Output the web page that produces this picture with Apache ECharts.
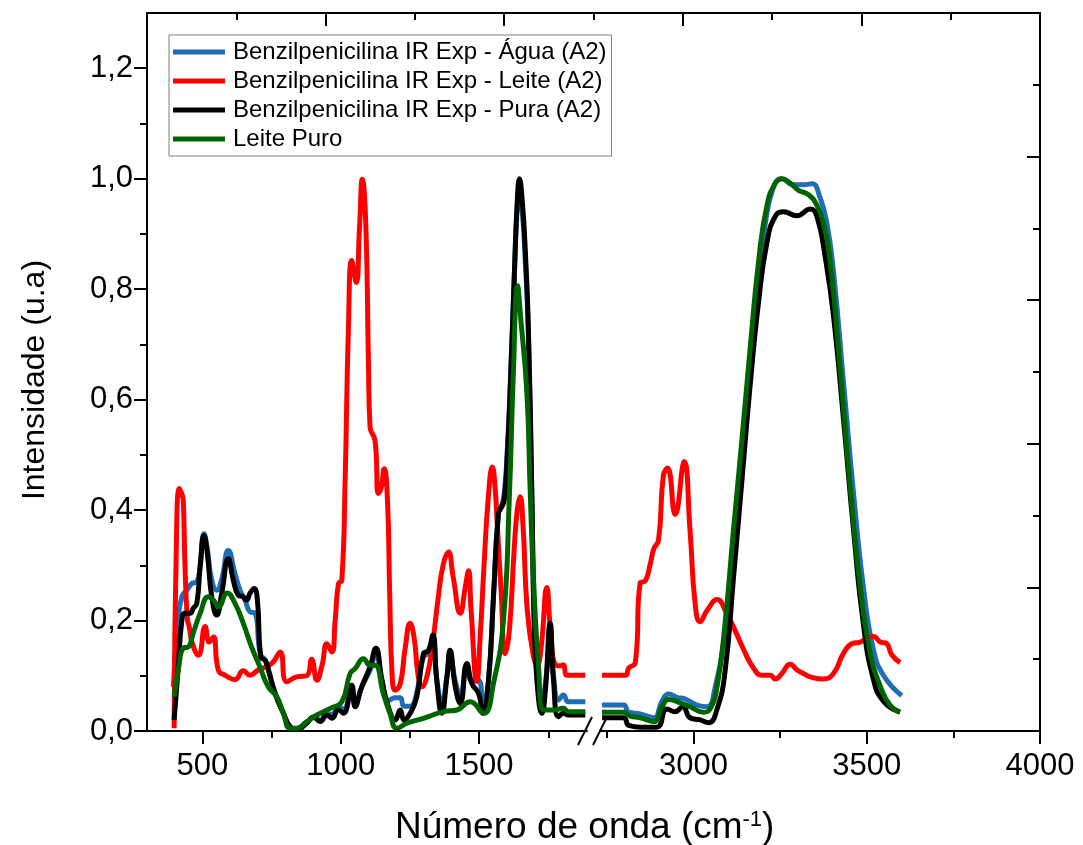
<!DOCTYPE html>
<html>
<head>
<meta charset="utf-8">
<title>Benzilpenicilina IR</title>
<script src="https://cdn.jsdelivr.net/npm/echarts@6/dist/echarts.min.js"></script>
<style>
html, body { margin: 0; padding: 0; background: #fff; }
#main { width: 1083px; height: 845px; }
</style>
</head>
<body>
<div id="main"></div>
<script>
var myChart = echarts.init(document.getElementById('main'));
var FONT = '"Liberation Sans", Arial, Helvetica, sans-serif';

var names = ['Benzilpenicilina IR Exp - Água (A2)', 'Benzilpenicilina IR Exp - Leite (A2)',
             'Benzilpenicilina IR Exp - Pura (A2)', 'Leite Puro'];
var colors = ['#1f6db4', '#ff0000', '#000000', '#006400'];

// ticks
var xTicksLeft = [500, 1000, 1500];
var xMinorLeft = [750, 1250, 1750];
var xTicksRight = [3000, 3500, 4000];
var xMinorRight = [2750, 3250, 3750];
var yTicks = [0, 0.2, 0.4, 0.6, 0.8, 1.0, 1.2];
var yMinor = [0.1, 0.3, 0.5, 0.7, 0.9, 1.1];
var frameTicks = [0, 2, 4, 6, 8, 10];
var frameMinor = [1, 3, 5, 7, 9];

// espectros [numero de onda, intensidade] - trecho 300-1890
var aguaL = [[395,0.08],[412,0.20],[426,0.243],[444,0.255],[462,0.267],[480,0.27],[492,0.30],[506,0.357],[518,0.33],[534,0.273],[552,0.255],[570,0.275],[594,0.327],[618,0.285],[636,0.255],[654,0.237],[672,0.216],[691,0.213],[709,0.14],[727,0.128],[739,0.11],[763,0.068],[793,0.032],[817,0.008],[841,0.003],[877,0.014],[901,0.025],[926,0.02],[950,0.032],[968,0.03],[992,0.042],[1010,0.04],[1040,0.075],[1052,0.05],[1076,0.08],[1106,0.11],[1127,0.14],[1149,0.092],[1172,0.055],[1197,0.06],[1215,0.06],[1229,0.045],[1251,0.045],[1275,0.07],[1299,0.135],[1317,0.14],[1333,0.16],[1347,0.095],[1365,0.05],[1384,0.10],[1395,0.14],[1414,0.09],[1432,0.065],[1456,0.12],[1474,0.09],[1498,0.092],[1514,0.05],[1534,0.092],[1552,0.243],[1570,0.394],[1582,0.41],[1591,0.43],[1601,0.5],[1612,0.62],[1627,0.82],[1638,0.95],[1645,0.98],[1656,0.94],[1666,0.86],[1678,0.72],[1691,0.418],[1699,0.2],[1709,0.11],[1727,0.056],[1743,0.10],[1757,0.17],[1769,0.10],[1787,0.056],[1805,0.065],[1823,0.053],[1884,0.053]];
var leiteL = [[398,0.005],[407,0.363],[417,0.439],[426,0.429],[431,0.418],[437,0.304],[446,0.202],[453,0.188],[463,0.16],[486,0.137],[510,0.189],[525,0.161],[540,0.17],[558,0.11],[582,0.101],[618,0.093],[648,0.109],[672,0.101],[701,0.11],[733,0.117],[756,0.125],[781,0.143],[805,0.089],[841,0.098],[877,0.10],[895,0.13],[914,0.092],[933,0.12],[950,0.158],[968,0.143],[980,0.20],[992,0.267],[1004,0.273],[1016,0.454],[1028,0.731],[1040,0.852],[1056,0.812],[1068,0.912],[1078,0.999],[1091,0.912],[1100,0.671],[1106,0.55],[1124,0.526],[1136,0.43],[1146,0.44],[1157,0.475],[1169,0.418],[1177,0.25],[1186,0.1],[1197,0.074],[1215,0.085],[1233,0.15],[1251,0.195],[1265,0.17],[1280,0.10],[1293,0.08],[1312,0.10],[1330,0.15],[1352,0.24],[1370,0.30],[1389,0.324],[1406,0.28],[1432,0.213],[1450,0.26],[1462,0.29],[1471,0.22],[1492,0.09],[1504,0.17],[1518,0.30],[1533,0.42],[1548,0.478],[1558,0.44],[1565,0.38],[1580,0.25],[1594,0.14],[1609,0.18],[1627,0.33],[1638,0.40],[1648,0.424],[1659,0.37],[1674,0.22],[1697,0.134],[1710,0.12],[1724,0.15],[1745,0.26],[1757,0.19],[1775,0.12],[1793,0.118],[1805,0.12],[1817,0.101],[1884,0.101]];
var puraL = [[398,0.02],[413,0.116],[426,0.2],[437,0.213],[456,0.213],[467,0.222],[480,0.231],[492,0.297],[506,0.354],[518,0.321],[534,0.243],[552,0.21],[570,0.249],[594,0.312],[612,0.273],[630,0.246],[648,0.243],[660,0.237],[672,0.249],[687,0.258],[699,0.237],[711,0.134],[727,0.128],[739,0.11],[763,0.068],[793,0.032],[817,0.008],[841,0.003],[877,0.014],[901,0.025],[926,0.017],[950,0.029],[968,0.023],[992,0.038],[1010,0.032],[1040,0.083],[1052,0.044],[1076,0.08],[1106,0.116],[1127,0.15],[1149,0.092],[1172,0.044],[1197,0.02],[1215,0.038],[1229,0.02],[1251,0.032],[1275,0.062],[1299,0.14],[1317,0.146],[1333,0.174],[1347,0.092],[1365,0.032],[1384,0.098],[1395,0.146],[1414,0.08],[1432,0.05],[1456,0.122],[1474,0.086],[1498,0.068],[1514,0.032],[1534,0.092],[1552,0.243],[1570,0.394],[1582,0.406],[1591,0.418],[1602,0.5],[1612,0.611],[1627,0.82],[1638,0.96],[1646,1.0],[1656,0.96],[1666,0.88],[1678,0.731],[1691,0.418],[1699,0.2],[1709,0.092],[1727,0.032],[1739,0.07],[1757,0.195],[1769,0.092],[1787,0.026],[1805,0.032],[1823,0.029],[1884,0.029]];
var puroL = [[398,0.062],[413,0.11],[431,0.15],[449,0.152],[467,0.177],[492,0.213],[522,0.243],[540,0.237],[558,0.225],[590,0.25],[618,0.231],[648,0.195],[678,0.152],[708,0.116],[738,0.08],[769,0.062],[793,0.032],[817,0.005],[841,0.005],[877,0.017],[914,0.029],[962,0.041],[1004,0.053],[1034,0.104],[1052,0.113],[1082,0.131],[1106,0.119],[1124,0.119],[1154,0.068],[1178,0.032],[1203,0.005],[1239,0.014],[1299,0.023],[1371,0.035],[1420,0.038],[1468,0.053],[1516,0.032],[1552,0.086],[1588,0.2],[1609,0.418],[1624,0.65],[1639,0.806],[1650,0.75],[1673,0.61],[1685,0.43],[1697,0.273],[1715,0.116],[1733,0.038],[1769,0.038],[1805,0.041],[1823,0.035],[1884,0.035]];

// trecho 2730-4000
var aguaR = [[2736,0.047],[2798,0.047],[2813,0.034],[2846,0.031],[2885,0.024],[2909,0.054],[2928,0.067],[2952,0.061],[2976,0.058],[3010,0.047],[3039,0.044],[3063,0.081],[3087,0.161],[3111,0.295],[3135,0.463],[3159,0.63],[3183,0.798],[3207,0.918],[3231,0.985],[3255,1.0],[3288,0.989],[3317,0.989],[3342,0.991],[3365,0.966],[3385,0.919],[3404,0.831],[3433,0.63],[3462,0.429],[3490,0.262],[3519,0.148],[3548,0.101],[3601,0.064]];
var leiteR = [[2736,0.101],[2803,0.101],[2813,0.114],[2832,0.124],[2846,0.268],[2861,0.272],[2875,0.302],[2885,0.329],[2899,0.346],[2913,0.463],[2925,0.476],[2947,0.392],[2973,0.488],[2990,0.362],[3005,0.228],[3019,0.198],[3039,0.218],[3068,0.238],[3096,0.212],[3125,0.175],[3144,0.148],[3173,0.114],[3197,0.101],[3221,0.101],[3236,0.094],[3255,0.104],[3279,0.121],[3298,0.111],[3317,0.104],[3337,0.098],[3375,0.094],[3404,0.104],[3433,0.141],[3457,0.158],[3481,0.161],[3500,0.168],[3519,0.171],[3539,0.161],[3558,0.158],[3572,0.138],[3596,0.124]];
var puraR = [[2736,0.024],[2798,0.024],[2813,0.010],[2846,0.007],[2894,0.007],[2923,0.040],[2947,0.035],[2969,0.044],[2990,0.024],[3019,0.020],[3043,0.015],[3068,0.040],[3091,0.108],[3115,0.275],[3140,0.456],[3164,0.63],[3188,0.778],[3212,0.885],[3236,0.932],[3260,0.940],[3298,0.933],[3337,0.945],[3356,0.932],[3380,0.858],[3404,0.751],[3433,0.563],[3462,0.362],[3490,0.195],[3519,0.094],[3548,0.054],[3596,0.034]];
var puroR = [[2736,0.034],[2798,0.034],[2817,0.027],[2846,0.024],[2885,0.017],[2909,0.044],[2928,0.057],[2962,0.051],[2990,0.044],[3029,0.034],[3048,0.040],[3068,0.081],[3091,0.195],[3115,0.362],[3140,0.53],[3164,0.697],[3188,0.852],[3212,0.952],[3236,0.992],[3255,1.0],[3279,0.992],[3303,0.979],[3332,0.971],[3356,0.952],[3375,0.919],[3394,0.852],[3423,0.657],[3452,0.443],[3481,0.262],[3510,0.141],[3539,0.081],[3567,0.047],[3596,0.034]];

var black = '#000';
function tickAxis(gi, min, max, pos, ticks, len, inside, extra) {
    var a = {
        gridIndex: gi, type: 'value', min: min, max: max, position: pos,
        axisLine: { show: false, onZero: false, lineStyle: { color: black, width: 2 } },
        axisTick: { show: true, inside: inside, customValues: ticks, length: len, lineStyle: { color: black, width: 2 } },
        axisLabel: { show: false },
        splitLine: { show: false },
        minorTick: { show: false }
    };
    if (extra) {
        for (var k in extra) a[k] = Object.assign({}, a[k] || {}, extra[k]);
    }
    return a;
}
var labelStyle = { show: true, color: black, fontSize: 31, fontFamily: FONT };

var gLeft = { left: 147, top: 13, width: 440, height: 718, outerBoundsMode: 'none' };
var gRight = { left: 600, top: 13, width: 440, height: 718, outerBoundsMode: 'none' };
var gFrame = { left: 147, top: 13, width: 893, height: 718, outerBoundsMode: 'none' };

function line(i, data, gi) {
    return {
        name: names[i], type: 'line', xAxisIndex: gi, yAxisIndex: gi, data: data,
        symbol: 'none', showSymbol: false, smooth: 0.5,
        lineStyle: { color: colors[i], width: 5 }, itemStyle: { color: colors[i] },
        emphasis: { disabled: true }
    };
}

option = {
    backgroundColor: '#fff',
    animation: false,
    title: {
        text: '{a|Número de onda (cm}{s|-1}{a|)}',
        left: 390, top: 804,
        textStyle: {
            fontWeight: 'normal',
            rich: {
                a: { fontSize: 37, fontFamily: FONT, fontWeight: 'normal', color: black },
                s: { fontSize: 22, fontFamily: FONT, fontWeight: 'normal', color: black, padding: [0, 0, 15, 0] }
            }
        }
    },
    legend: {
        data: names, orient: 'vertical', left: 169, top: 35,
        icon: 'rect', itemWidth: 52, itemHeight: 5, itemGap: 5,
        padding: [5, 5, 5, 4], borderColor: '#808080', borderWidth: 1,
        backgroundColor: '#fff', selectedMode: false,
        textStyle: { color: black, fontSize: 24, fontFamily: FONT, padding: [0, 0, 0, 3] }
    },
    grid: [gLeft, gLeft, gRight, gRight, gFrame, gFrame],
    xAxis: [
        tickAxis(0, 300, 1890, 'bottom', xTicksLeft, 13, false, {
            axisLine: { show: true },
            axisLabel: Object.assign({ customValues: xTicksLeft, margin: 20, formatter: function (v) { return String(v); } }, labelStyle)
        }),
        tickAxis(1, 300, 1890, 'bottom', xMinorLeft, 7, false),
        tickAxis(2, 2730, 4000, 'bottom', xTicksRight, 13, false, {
            axisLine: { show: true },
            axisLabel: Object.assign({ customValues: xTicksRight, margin: 20, formatter: function (v) { return String(v); } }, labelStyle)
        }),
        tickAxis(3, 2730, 4000, 'bottom', xMinorRight, 7, false),
        tickAxis(4, 0, 10, 'top', frameTicks, 13, true, { axisLine: { show: true } }),
        tickAxis(5, 0, 10, 'top', frameMinor, 7, true)
    ],
    yAxis: [
        tickAxis(0, 0, 1.3, 'left', yTicks, 13, false, {
            axisLine: { show: true },
            axisLabel: Object.assign({
                customValues: yTicks, margin: 14,
                formatter: function (v) { return v.toFixed(1).replace('.', ','); }
            }, labelStyle)
        }),
        tickAxis(1, 0, 1.3, 'left', yMinor, 7, false),
        { gridIndex: 2, type: 'value', min: 0, max: 1.3, show: false },
        { gridIndex: 3, type: 'value', min: 0, max: 1.3, show: false },
        tickAxis(4, 0, 10, 'right', frameTicks, 13, true, { axisLine: { show: true } }),
        tickAxis(5, 0, 10, 'right', frameMinor, 7, true)
    ],
    graphic: [
        { type: 'line', shape: { x1: 578, y1: 745, x2: 592, y2: 717 }, style: { stroke: black, lineWidth: 2 } },
        { type: 'line', shape: { x1: 593, y1: 745, x2: 607, y2: 717 }, style: { stroke: black, lineWidth: 2 } }
    ],
    series: [
        line(0, aguaL, 0), line(1, leiteL, 0), line(2, puraL, 0), line(3, puroL, 0),
        line(0, aguaR, 2), line(1, leiteR, 2), line(2, puraR, 2), line(3, puroR, 2)
    ]
};
// nome do eixo y
option.yAxis[0].name = 'Intensidade (u.a)';
option.yAxis[0].nameLocation = 'middle';
option.yAxis[0].nameGap = 96;
option.yAxis[0].nameTextStyle = { color: black, fontSize: 32, fontFamily: FONT, padding: [0, 16, 0, 0] };

myChart.setOption(option);

window.onresize = function () {
    myChart.resize();
};
</script>
</body>
</html>
